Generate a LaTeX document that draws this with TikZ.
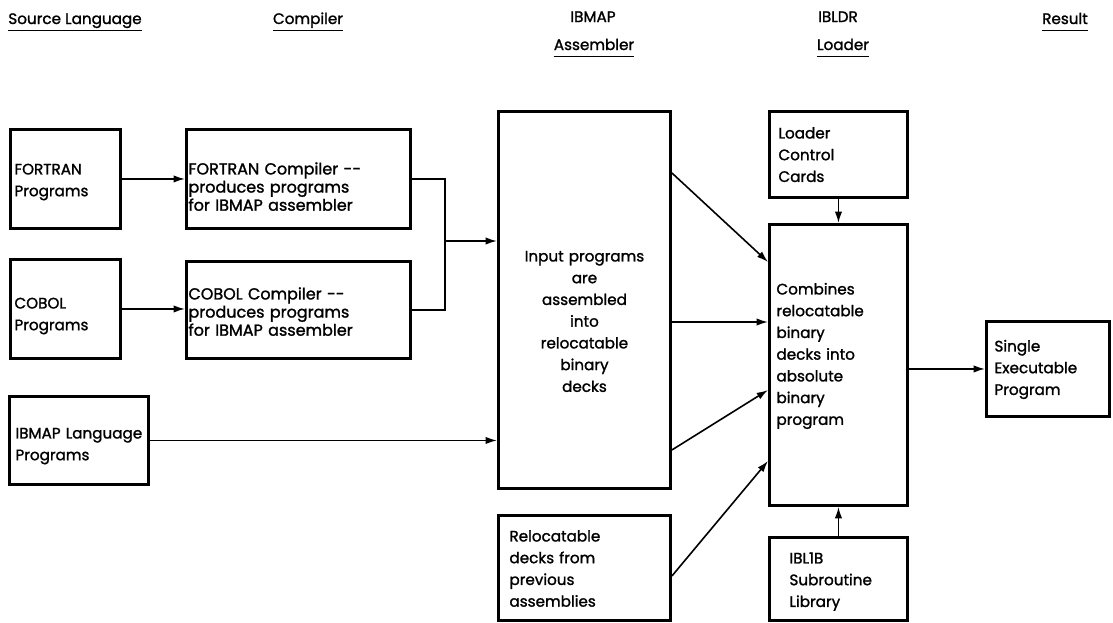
\documentclass[tikz,border=0pt]{standalone}
\usepackage{fontspec}
\setmainfont{Poppins}[FakeBold=1.4]
\usetikzlibrary{arrows.meta,calc}

\begin{document}
\begin{tikzpicture}[x=0.75pt,y=-0.75pt,
  font=\fontsize{11.4}{16.3}\selectfont,
  % box={width}{height}{left pad}{first baseline below top}
  box/.style n args={4}{draw,line width=2.2pt,anchor=north west,
    /utils/exec={\pgfmathsetlengthmacro\boxtw{(#1-2*#3)*0.75pt}%
      \pgfmathsetlengthmacro\boxdp{(#2-2*#4)*0.75pt}},
    text width=\boxtw,text height=0pt,text depth=\boxdp,align=left,
    inner xsep=#3*0.75pt,inner ysep=0pt,minimum height=#2*0.75pt},
  tight/.style={font=\fontsize{12}{13.6}\selectfont},
  hd/.style={inner sep=0pt,anchor=base},
  ul/.style={line width=1.2pt},
  wire/.style={line width=1.2pt},
  arr/.style={wire,-{Latex[length=8.5pt,width=5.5pt]}}]
  \useasboundingbox (0,0) rectangle (1113,622);

  % column heads
  \node[hd] (hsrc) at (75,24) {Source Language};
  \node[hd] (hcmp) at (308,24) {Compiler};
  \node[hd] (hasm1) at (593,22) {IBMAP};
  \node[hd] (hasm) at (594,50) {Assembler};
  \node[hd] (hldr1) at (838,22) {IBLDR};
  \node[hd] (hldr) at (843,50) {Loader};
  \node[hd] (hres) at (1065,24) {Result};
  \foreach \h in {hsrc,hcmp,hasm,hldr,hres}
    \draw[ul] ([yshift=-5pt]\h.base west) -- ([yshift=-5pt]\h.base east);

  % sources and compilers
  \node[box={110}{99}{4}{45}] (fortran) at (9,128) {FORTRAN\\Programs};
  \node[box={110}{99}{4}{49}] (cobol) at (9,258) {COBOL\\Programs};
  \node[box={139}{88}{6}{42}] (ibmap) at (8,395) {IBMAP~Language\\Programs};
  \node[box={224}{99}{2}{45},tight] (fcomp) at (185,128)
    {FORTRAN Compiler -{}-\\produces programs\\for IBMAP assembler};
  \node[box={224}{97}{2}{38},tight] (ccomp) at (185,260)
    {COBOL Compiler -{}-\\produces programs\\for IBMAP assembler};

  % assembler and loader
  \node[box={172}{377}{4}{150},align=center] (asm) at (497,110)
    {Input programs\\are\\assembled\\into\\relocatable\\binary\\decks};
  \node[box={172}{105}{11}{26}] (reloc) at (497,514)
    {Relocatable\\decks from\\previous\\assemblies};
  \node[box={138}{86}{9}{27}] (cards) at (768,110) {Loader\\Control\\Cards};
  \node[box={138}{281}{7}{70}] (comb) at (768,223)
    {Combines\\relocatable\\binary\\decks into\\absolute\\binary\\program};
  \node[box={138}{83}{20}{26}] (iblib) at (768,536) {IBL1B\\Subroutine\\Library};
  \node[box={123}{95}{8}{30}] (single) at (985,320) {Single\\Executable\\Program};

  \draw[arr] (fortran) -- (fcomp);
  \draw[arr] (cobol.east) -- (cobol.east -| ccomp.west);
  \coordinate (join) at (445,241);
  \draw[wire] (fcomp.east) -| (join) |- (ccomp.east);
  \draw[arr] (join) -- (join -| asm.west);
  \draw[arr] (ibmap.east) -- (ibmap.east -| asm.west);
  \draw[arr] ($(asm.north east)+(0,63)$) -- ($(comb.north west)+(0,39)$);
  \draw[arr] ($(asm.north east)+(0,212)$) -- ($(comb.north west)+(0,99)$);
  \draw[arr] ($(asm.south east)+(0,-40)$) -- ($(comb.north west)+(0,167)$);
  \draw[arr] ($(reloc.east)+(0,8)$) -- ($(comb.south west)+(0,-46)$);
  \draw[arr] (cards) -- (comb);
  \draw[arr] (iblib) -- (comb);
  \draw[arr] (comb.east |- single.west) -- (single.west);
\end{tikzpicture}
\end{document}
